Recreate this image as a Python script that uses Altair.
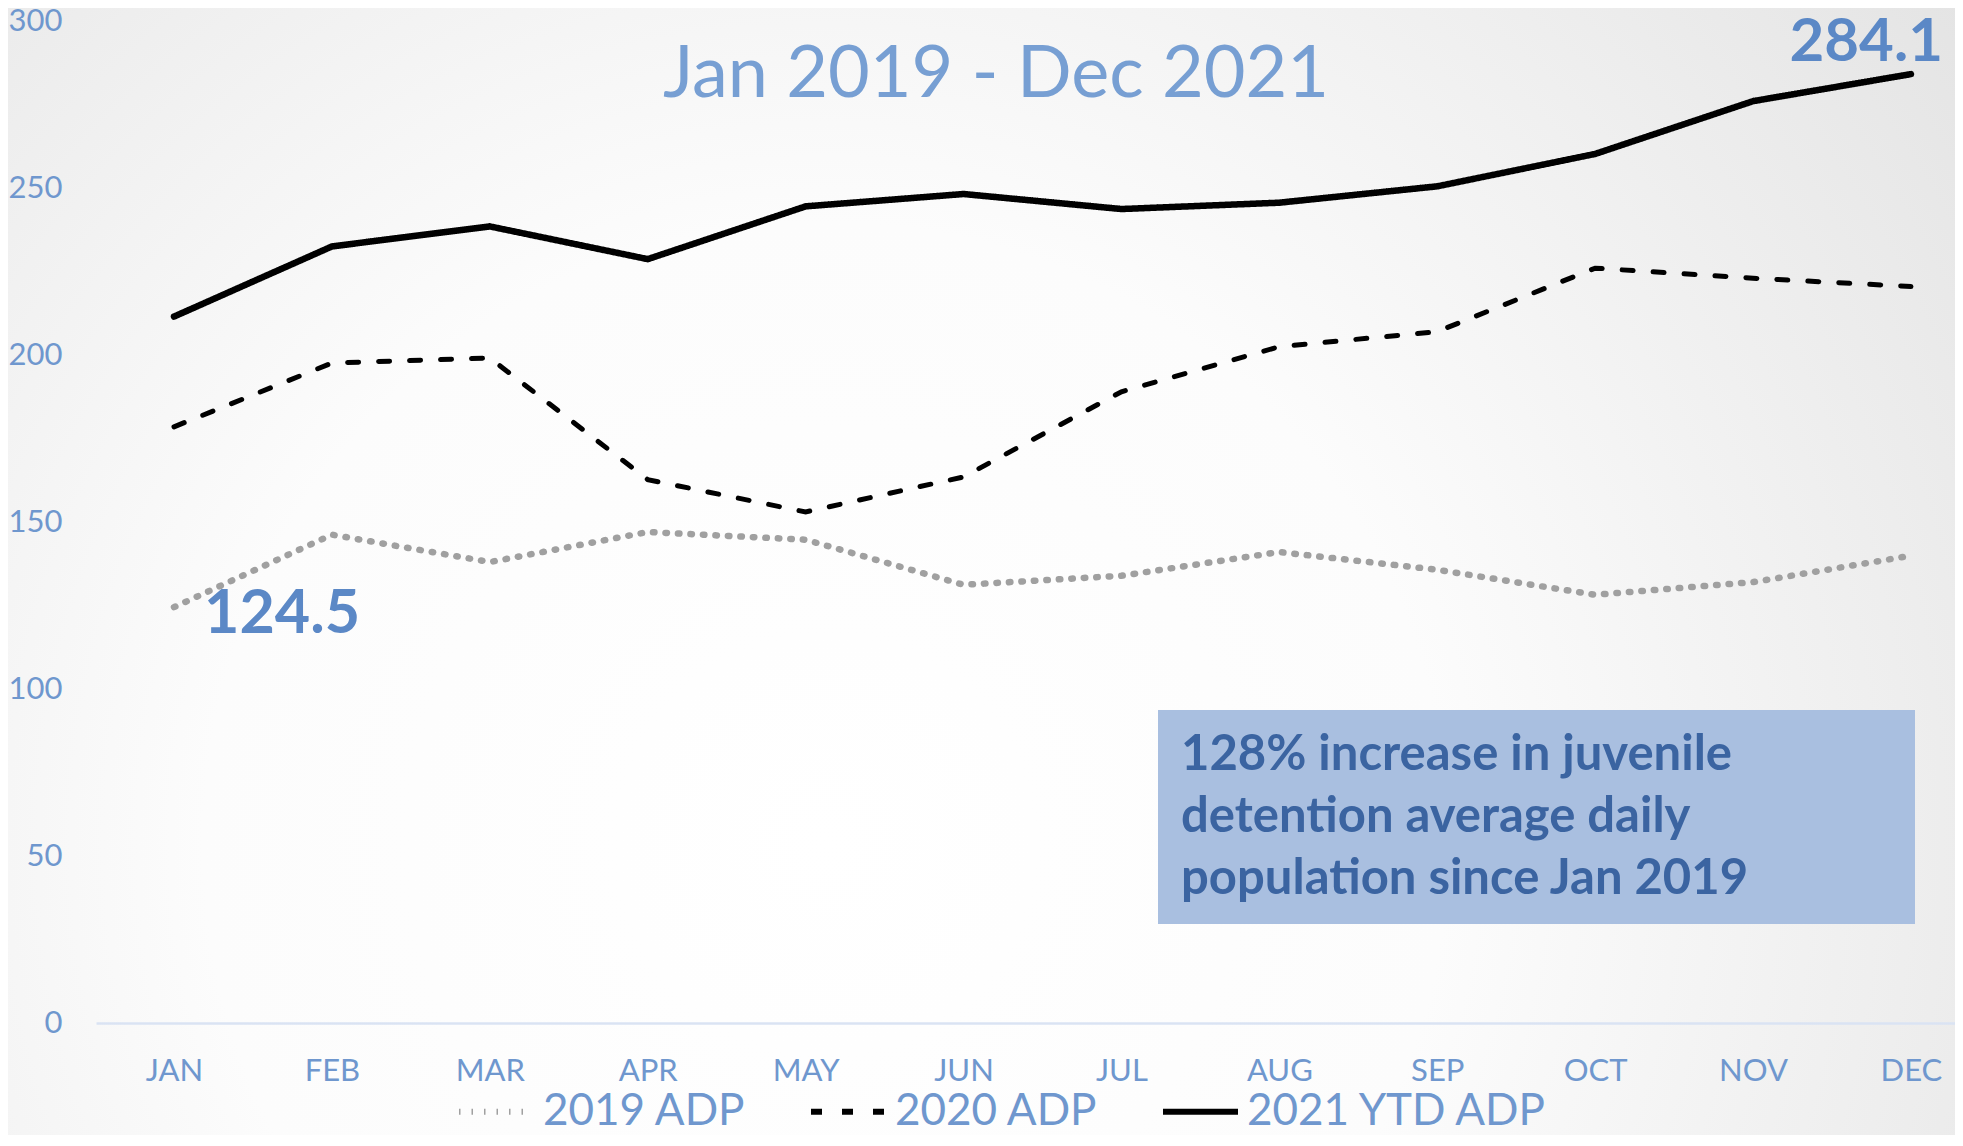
import altair as alt
import pandas as pd

# ---------------- data ----------------
months = ["JAN", "FEB", "MAR", "APR", "MAY", "JUN", "JUL", "AUG", "SEP", "OCT", "NOV", "DEC"]
adp_2019 = [124.5, 146.2, 138.0, 147.0, 144.7, 131.2, 133.9, 141.0, 135.7, 128.2, 132.0, 139.9]
adp_2020 = [178.5, 197.6, 199.1, 162.7, 153.0, 163.5, 189.0, 202.5, 207.0, 226.0, 223.0, 220.5]
adp_2021 = [211.5, 232.5, 238.5, 228.7, 244.5, 248.2, 243.7, 245.6, 250.5, 260.2, 276.0, 284.1]
series_names = ["2019 ADP", "2020 ADP", "2021 YTD ADP"]
y_ticks = [0, 50, 100, 150, 200, 250, 300]
title_text = "Jan 2019 - Dec 2021"
note_lines = ["128% increase in juvenile", "detention average daily", "population since Jan 2019"]

rows = []
for name, vals in zip(series_names, [adp_2019, adp_2020, adp_2021]):
    for i, v in enumerate(vals):
        rows.append({"idx": i, "month": months[i], "series": name, "value": v})
df = pd.DataFrame(rows)

first_label = pd.DataFrame([{"idx": 0, "value": adp_2019[0]}])
last_label = pd.DataFrame([{"idx": len(months) - 1, "value": adp_2021[-1]}])
one = pd.DataFrame({"k": [0]})

# ---------------- layout / style ----------------
W, H = 1859, 1002
PAD = {"left": 88, "top": 13, "right": 0, "bottom": 112}

AXIS_BLUE = "#6f97ce"
TITLE_BLUE = "#779fd3"
VALUE_BLUE = "#5b88c6"
FONT = "Lato"

line_colors = ["#a0a0a0", "#000000", "#000000"]
line_dashes = [[1.5, 11], [11, 20], [1, 0]]
line_widths = [6.5, 5, 6.5]

x_scale = alt.Scale(domain=[-0.494, 11.279], nice=False, zero=False)
y_scale = alt.Scale(domain=[0, 300], nice=False)

label_expr = "[" + ",".join("'%s'" % m for m in months) + "][datum.value]"

legend = alt.Legend(
    orient="none", legendX=360, legendY=1050, direction="horizontal", title=None,
    symbolType="stroke", symbolSize=5625, symbolStrokeWidth=6, labelFontSize=44,
    labelFont=FONT, labelColor=AXIS_BLUE, labelOffset=6, columnPadding=52, padding=0,
    labelLimit=500,
)

x_enc = alt.X("idx:Q", scale=x_scale,
              axis=alt.Axis(values=list(range(len(months))), labelExpr=label_expr, title=None,
                            ticks=False, grid=False, domainColor="#dae3f3", domainWidth=2.5,
                            labelFont=FONT, labelFontSize=31, labelColor=AXIS_BLUE,
                            labelBaseline="alphabetic", labelPadding=57, labelFlush=False,
                            labelOverlap=False, zindex=1))
y_enc = alt.Y("value:Q", scale=y_scale,
              axis=alt.Axis(values=y_ticks, title=None, ticks=False, grid=False, domain=False,
                            labelFont=FONT, labelFontSize=31, labelColor=AXIS_BLUE,
                            labelPadding=34, zindex=1))
color_enc = alt.Color("series:N", scale=alt.Scale(domain=series_names, range=line_colors),
                      legend=legend)
dash_enc = alt.StrokeDash("series:N", scale=alt.Scale(domain=series_names, range=line_dashes),
                          legend=legend)

bg = alt.Chart(one).mark_rect(
    color={
        "gradient": "radial",
        "x1": 0.42, "y1": 0.64, "r1": 0,
        "x2": 0.42, "y2": 0.64, "r2": 0.76,
        "stops": [
            {"offset": 0, "color": "#ffffff"},
            {"offset": 0.42, "color": "#fcfcfc"},
            {"offset": 1, "color": "#e2e2e2"},
        ],
    }
).encode(
    x=alt.value(-PAD["left"]), x2=alt.value(W + PAD["right"]),
    y=alt.value(-PAD["top"]), y2=alt.value(H + PAD["bottom"]),
)

box = alt.Chart(one).mark_rect(color="#a9bfe0").encode(
    x=alt.value(1062), x2=alt.value(1819), y=alt.value(689), y2=alt.value(903)
)

line_layers = []
for name, width in zip(series_names, line_widths):
    line_layers.append(
        alt.Chart(df).transform_filter(alt.datum.series == name)
        .mark_line(strokeCap="round", strokeWidth=width)
        .encode(x=x_enc, y=y_enc, color=color_enc, strokeDash=dash_enc,
                order=alt.Order("idx:Q"))
    )

lbl_first = alt.Chart(first_label).mark_text(
    align="left", baseline="alphabetic", dx=30, dy=26, font=FONT, fontWeight="bold",
    fontSize=61, color=VALUE_BLUE
).encode(x=alt.X("idx:Q", scale=x_scale), y=alt.Y("value:Q", scale=y_scale),
         text=alt.Text("value:Q", format=".1f"))

lbl_last = alt.Chart(last_label).mark_text(
    align="right", baseline="alphabetic", dx=32, dy=-13, font=FONT, fontWeight="bold",
    fontSize=60, color=VALUE_BLUE
).encode(x=alt.X("idx:Q", scale=x_scale), y=alt.Y("value:Q", scale=y_scale),
         text=alt.Text("value:Q", format=".1f"))

title = alt.Chart(one).mark_text(
    align="center", baseline="alphabetic", font=FONT, fontSize=72, color=TITLE_BLUE
).encode(x=alt.value(900), y=alt.value(76), text=alt.value(title_text))

note = alt.Chart(one).mark_text(
    align="left", baseline="alphabetic", font=FONT, fontWeight="bold", fontSize=49,
    lineHeight=62, color="#3b64a1"
).encode(x=alt.value(1085), y=alt.value(749), text=alt.value(note_lines))

chart = alt.layer(bg, box, *line_layers, lbl_first, lbl_last, title, note).properties(
    width=W, height=H, padding=PAD, autosize=alt.AutoSizeParams(type="none"),
    background="#ffffff",
).configure_view(stroke=None)

chart.save("out.html", embed_options={"renderer": "svg", "actions": False})
